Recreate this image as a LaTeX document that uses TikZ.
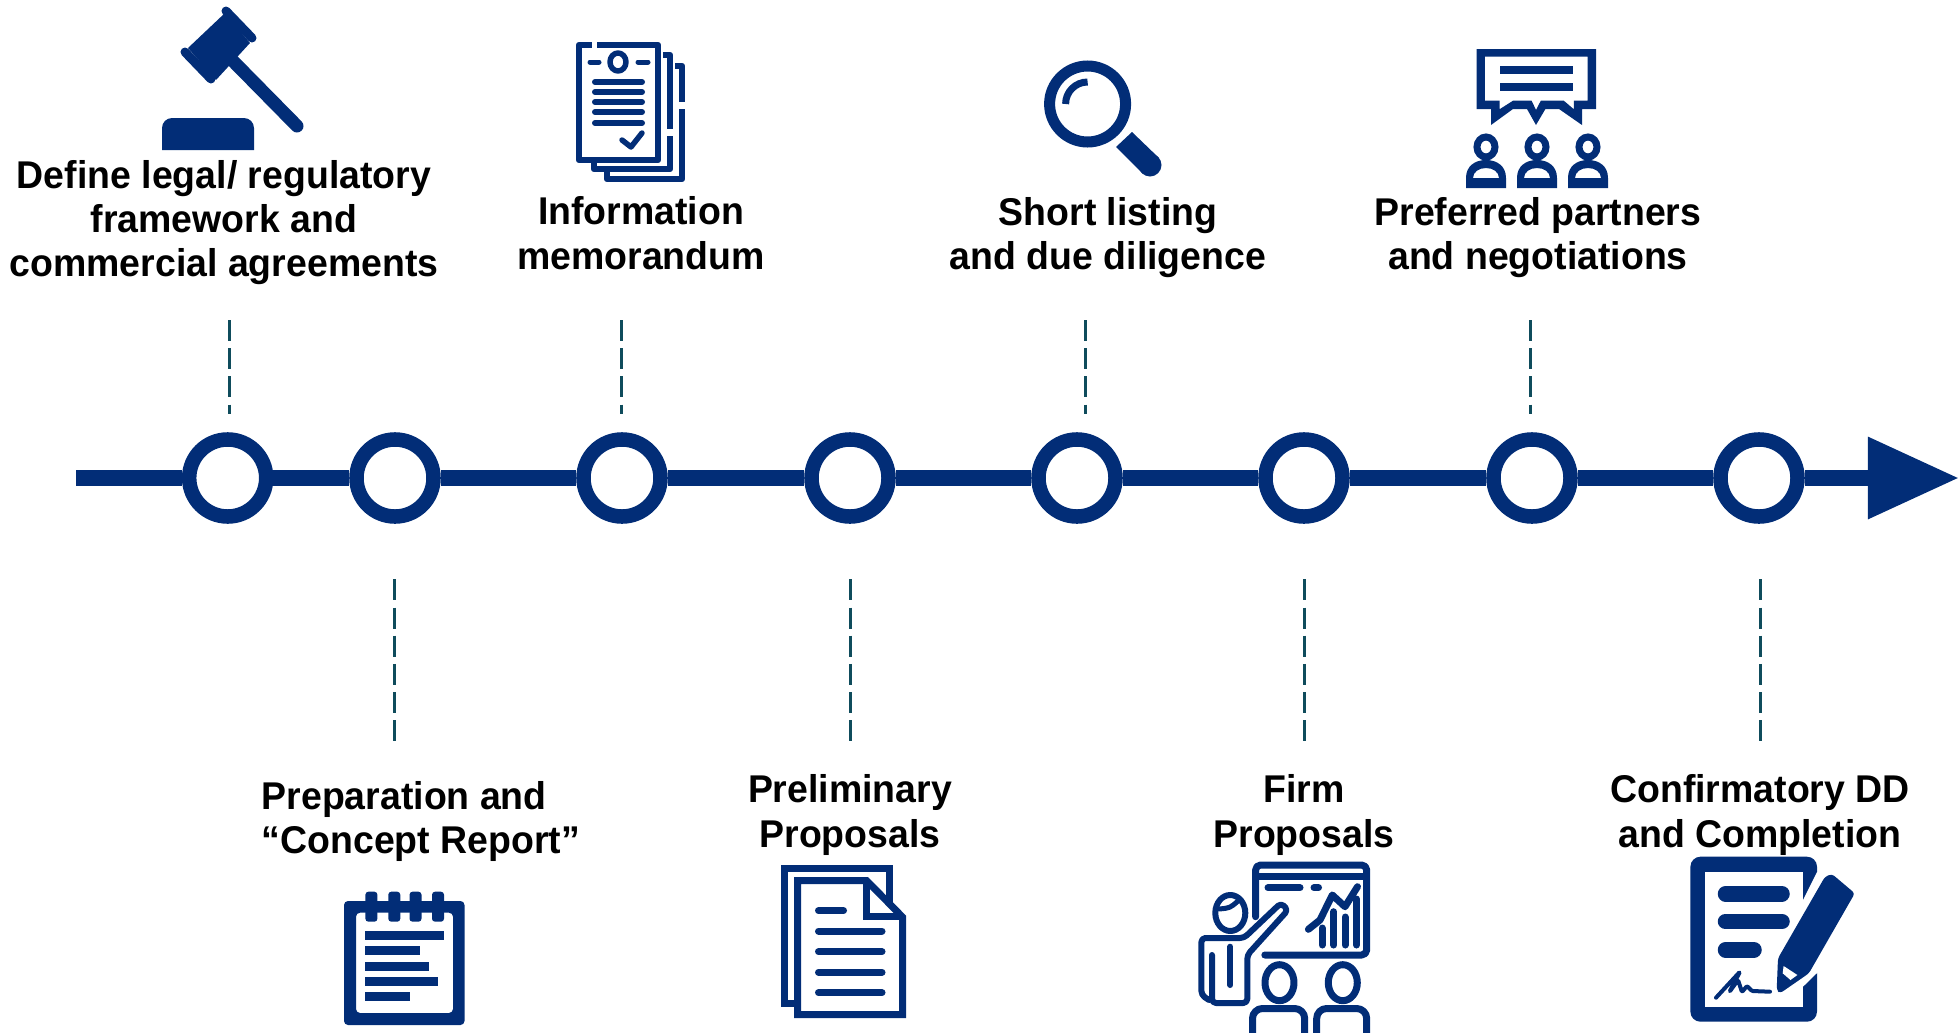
\documentclass[tikz,border=0pt]{standalone}
\usepackage{fontspec}
\setmainfont[FakeStretch=0.968]{Liberation Sans}
\usetikzlibrary{arrows.meta}
\definecolor{navy}{HTML}{022D77}
\definecolor{dashteal}{HTML}{0F4C5C}
\tikzset{
  station/.style={circle,draw=navy,fill=white,line width=0.145cm,minimum size=0.77cm,inner sep=0pt},
  axis/.style={draw=navy,line width=0.16cm},
  tick/.style={draw=dashteal,line width=0.03cm,dash pattern=on 0.21cm off 0.072cm},
  caption/.style={font=\fontsize{11}{12.63}\selectfont\bfseries,align=center,text=black,inner sep=0pt},
  ink/.style={fill=navy},
  pen/.style={draw=navy,line width=0.07cm,line join=round},
  stub/.style={pen,line cap=round}
}
\begin{document}
\begin{tikzpicture}[x=0.01cm,y=-0.01cm]
\useasboundingbox (0,0) rectangle (1959,1033);

\path (76,478) coordinate (start);
\path (1959,478) coordinate (tip);
\path (227.7,478) node[station] (s1){};
\path (395,478) node[station] (s2){};
\path (622,478) node[station] (s3){};
\path (850,478) node[station] (s4){};
\path (1077,478) node[station] (s5){};
\path (1304,478) node[station] (s6){};
\path (1532,478) node[station] (s7){};
\path (1759,478) node[station] (s8){};
\draw[axis] (start) -- (s1);
\draw[axis] (s1) -- (s2);
\draw[axis] (s2) -- (s3);
\draw[axis] (s3) -- (s4);
\draw[axis] (s4) -- (s5);
\draw[axis] (s5) -- (s6);
\draw[axis] (s6) -- (s7);
\draw[axis] (s7) -- (s8);
\draw[axis,-{Triangle[length=0.91cm,width=0.78cm]}] (s8) -- (tip);

\path (229,320) coordinate (t1a);
\path (229,414) coordinate (t1b);
\draw[tick] (t1a) -- (t1b);
\path (621,320) coordinate (t3a);
\path (621,414) coordinate (t3b);
\draw[tick] (t3a) -- (t3b);
\path (1085,320) coordinate (t5a);
\path (1085,414) coordinate (t5b);
\draw[tick] (t5a) -- (t5b);
\path (1530,320) coordinate (t7a);
\path (1530,414) coordinate (t7b);
\draw[tick] (t7a) -- (t7b);
\path (394.3,579.3) coordinate (t2a);
\path (394.3,741) coordinate (t2b);
\draw[tick] (t2a) -- (t2b);
\path (850,579.3) coordinate (t4a);
\path (850,741) coordinate (t4b);
\draw[tick] (t4a) -- (t4b);
\path (1304,579.3) coordinate (t6a);
\path (1304,741) coordinate (t6b);
\draw[tick] (t6a) -- (t6b);
\path (1760,579.3) coordinate (t8a);
\path (1760,741) coordinate (t8b);
\draw[tick] (t8a) -- (t8b);

\path (224,222.5) node[caption] (legal){Define legal/ regulatory\\framework and\\commercial agreements};
\path (641,233) node[caption] (memo){Information\\memorandum};
\path (1108,237.5) node[caption] (listing){Short listing\\and due diligence};
\path (1538,237.5) node[caption] (partners){Preferred partners\\and negotiations};
\path (261,821.5) node[caption,anchor=west,align=left] (concept){Preparation and\\“Concept Report”};
\path (850,815) node[caption] (prelim){Preliminary\\Proposals};
\path (1304,815) node[caption] (firm){Firm\\Proposals};
\path (1760,815) node[caption] (confirm){Confirmatory DD\\and Completion};

\fill[ink] (225,13) -- (250,43) -- (216,80) -- (188,48) -- cycle;
\draw[stub,line width=0.09cm] (226,11) -- (252,38);
\draw[stub,line width=0.09cm] (185,52) -- (211,79);
\draw[navy,line width=0.13cm,line cap=round] (232,60) -- (297,126);
\fill[ink,rounded corners=0.1cm] (162,150) -- (162,118) -- (254,118) -- (254,150);
\fill[ink] (162,135) rectangle (254,148);

\draw[pen,line width=0.065cm] (591,160) -- (579,160) -- (579,45) -- (592,45);
\draw[pen,line width=0.065cm] (597,45) -- (658,45) -- (658,160) -- (591,160);
\draw[pen,line width=0.065cm] (663,55) -- (670,55) -- (670,129);
\draw[pen,line width=0.065cm] (670,136) -- (670,169) -- (594,169) -- (594,162);
\draw[pen,line width=0.065cm] (675,66) -- (682,66) -- (682,102);
\draw[pen,line width=0.065cm] (682,109) -- (682,179) -- (607,179) -- (607,172);
\draw[pen,line width=0.055cm] (618,62) ellipse [x radius=8,y radius=9];
\draw[stub,line width=0.05cm] (590,62) -- (599,62);
\draw[stub,line width=0.05cm] (638,62) -- (648,62);
\draw[stub,line width=0.06cm] (595,82) -- (642,82);
\draw[stub,line width=0.06cm] (595,92) -- (642,92);
\draw[stub,line width=0.06cm] (595,102) -- (642,102);
\draw[stub,line width=0.06cm] (595,112) -- (642,112);
\draw[stub,line width=0.06cm] (595,123) -- (642,123);
\draw[stub,line width=0.055cm] (622,140) -- (631,147) -- (642,133);

\draw[navy,line width=0.11cm] (1087.6,104) circle [radius=38];
\draw[navy,line width=0.07cm] (1065.6,104) arc [start angle=180,end angle=270,radius=22];
\fill[ink] (1116,147) -- (1132,132) -- (1159,158) -- (1143,174) -- cycle;
\fill[ink] (1150,165) circle [radius=11.5];

\fill[ink,even odd rule] (1476.5,49) -- (1596,49) -- (1596,109) -- (1582,109) -- (1582,125) -- (1559,109) -- (1545.4,109) -- (1536,125) -- (1527,109) -- (1513,109) -- (1491,125) -- (1491,109) -- (1476.5,109) -- cycle
  (1484.8,56.7) -- (1587.7,56.7) -- (1587.7,100.7) -- (1573.9,100.7) -- (1573.9,109.3) -- (1563.8,100.7) -- (1540.8,100.7) -- (1536,110) -- (1531.6,100.7) -- (1513,100.7) -- (1499.5,109.3) -- (1499.5,100.7) -- (1484.8,100.7) -- cycle;
\fill[ink] (1499.5,65.7) rectangle (1573.4,74.3);
\fill[ink] (1499.5,82.7) rectangle (1573.4,91);
\draw[navy,line width=0.07cm] (1486,147) ellipse [x radius=9,y radius=10];
\draw[navy,line width=0.07cm] (1537,147) ellipse [x radius=9,y radius=10];
\draw[navy,line width=0.07cm] (1588,147) ellipse [x radius=9,y radius=10];
\fill[ink,even odd rule,shift={(1486,0)}] (-20,188) -- (-20,178) .. controls (-20,166) and (-11,160) .. (0,160) .. controls (11,160) and (20,166) .. (20,178) -- (20,188) -- cycle (-13,178) .. controls (-13,172) and (-7,168) .. (0,168) .. controls (7,168) and (13,172) .. (13,178) -- cycle;
\fill[ink,even odd rule,shift={(1537,0)}] (-20,188) -- (-20,178) .. controls (-20,166) and (-11,160) .. (0,160) .. controls (11,160) and (20,166) .. (20,178) -- (20,188) -- cycle (-13,178) .. controls (-13,172) and (-7,168) .. (0,168) .. controls (7,168) and (13,172) .. (13,178) -- cycle;
\fill[ink,even odd rule,shift={(1588,0)}] (-20,188) -- (-20,178) .. controls (-20,166) and (-11,160) .. (0,160) .. controls (11,160) and (20,166) .. (20,178) -- (20,188) -- cycle (-13,178) .. controls (-13,172) and (-7,168) .. (0,168) .. controls (7,168) and (13,172) .. (13,178) -- cycle;

\fill[ink,even odd rule] [rounded corners=0.04cm] (344,901) rectangle (464.5,1025) (356,912.7) rectangle (453,1013);
\fill[ink,rounded corners=0.03cm] (365.4,891.7) rectangle (377.4,921.7);
\fill[ink,rounded corners=0.03cm] (388.3,891.7) rectangle (400.3,921.7);
\fill[ink,rounded corners=0.03cm] (409.5,891.7) rectangle (421.5,921.7);
\fill[ink,rounded corners=0.03cm] (432,891.7) rectangle (444,921.7);
\fill[ink] (365.3,931) rectangle (443.7,940);
\fill[ink] (365.3,946.3) rectangle (419.6,955.3);
\fill[ink] (365.3,961.7) rectangle (428.6,970.7);
\fill[ink] (365.3,976.7) rectangle (437.6,985.7);
\fill[ink] (365.3,991.7) rectangle (410.2,1000.7);

\draw[pen,miter limit=10,line join=miter] (797,1003) -- (784.5,1003) -- (784.5,868) -- (889.7,868) -- (889.7,905);
\draw[pen,line join=miter,fill=white] (797.5,880.5) -- (866.5,880.5) -- (902.5,917) -- (902.5,1014.5) -- (797.5,1014.5) -- cycle;
\draw[pen,line join=miter] (866.5,880.5) -- (866.5,916) -- (902.5,916);
\draw[stub] (818.5,910.7) -- (843.5,910.7);
\draw[stub] (818.5,931) -- (882,931);
\draw[stub] (818.5,951.7) -- (882,951.7);
\draw[stub] (818.5,972.3) -- (882,972.3);
\draw[stub] (818.5,992.7) -- (882,992.7);

\draw[stub,rounded corners=0.05cm] (1255.6,916.7) -- (1255.6,865) -- (1366.7,865) -- (1366.7,955) -- (1264.8,955);
\draw[pen] (1255.6,876) -- (1366.7,876);
\draw[stub] (1268,887.7) -- (1300,887.7);
\draw[stub] (1314,887.7) -- (1318.5,887.7);
\draw[stub] (1308.4,929.3) -- (1320,920) -- (1332.3,895) -- (1345,906.7) -- (1357.5,886.7);
\draw[stub] (1322,928) -- (1322,945);
\draw[stub] (1333.7,911.7) -- (1333.7,945);
\draw[stub] (1345,917) -- (1345,945);
\draw[stub] (1356.6,899) -- (1356.6,945);
\draw[pen,line width=0.06cm] (1230.3,913) ellipse [x radius=15,y radius=18];
\draw[stub,line width=0.05cm] (1219,909) .. controls (1230,908) .. (1238,901);
\draw[stub,line width=0.06cm,rounded corners=0.04cm] (1209,1000) -- (1201.4,995) -- (1201.4,938) -- (1244,938) -- (1281,903) -- (1288,910) -- (1247.3,955) -- (1247.3,1003) -- (1212,1003) -- (1212,955);
\draw[stub,line width=0.06cm] (1230.3,946.7) -- (1230.3,985);
\draw[pen] (1279.5,982.7) ellipse [x radius=14.5,y radius=18];
\draw[pen] (1342.8,982.7) ellipse [x radius=14.5,y radius=18];
\draw[pen,rounded corners=0.1cm] (1252.5,1033) -- (1252.5,1008.5) -- (1304.7,1008.5) -- (1304.7,1033);
\draw[pen,rounded corners=0.1cm] (1316.7,1033) -- (1316.7,1008.5) -- (1366.7,1008.5) -- (1366.7,1033);

\fill[ink,even odd rule,rounded corners=0.1cm] (1690.4,856.7) rectangle (1817,1021.7);
\fill[white] (1704.6,871.7) rectangle (1803,1006.7);
\fill[white] (1803,900) -- (1817,872) -- (1825,872) -- (1825,970) -- (1817,973) -- (1803,986.7) -- cycle;
\draw[navy,line width=0.155cm,line cap=round] (1725.5,893.8) -- (1782,893.8);
\draw[navy,line width=0.155cm,line cap=round] (1725.5,921.5) -- (1782,921.5);
\draw[navy,line width=0.155cm,line cap=round] (1725.5,949.8) -- (1754,949.8);
\draw[stub,line width=0.04cm,rounded corners=0.01cm] (1716,997.7) -- (1740,971.7) -- (1729.4,992) -- (1738,980) -- (1742,992) -- (1747,986) -- (1752,991) -- (1770,991.7);
\fill[ink,rounded corners=0.03cm] (1778,958.3) -- (1825,876.7) -- (1832,874) -- (1854.8,893.3) -- (1808.9,973.3) -- (1780,993.3) -- (1776.7,990) -- cycle;
\fill[white] (1783.6,966) -- (1797.4,975) -- (1790.5,980) -- (1782.7,973.3) -- cycle;
\end{tikzpicture}
\end{document}
